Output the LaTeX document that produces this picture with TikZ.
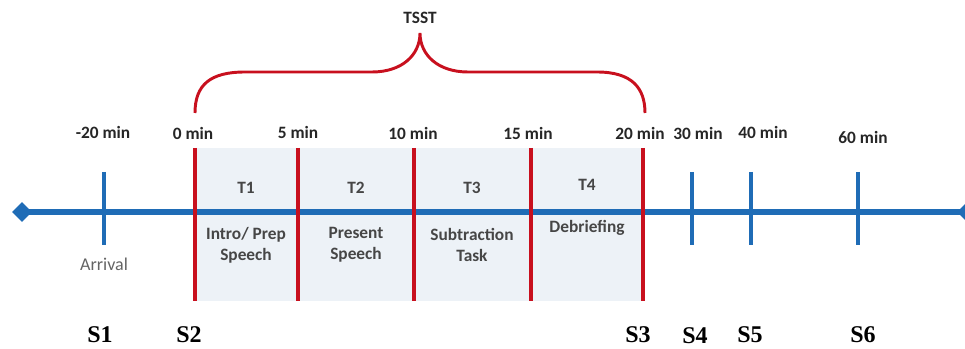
\documentclass[tikz,border=0pt]{standalone}
\usepackage{fontspec}
\setmainfont{Carlito}
\newfontfamily\timesf{Liberation Serif}
\usetikzlibrary{shapes.geometric}
\definecolor{tlblue}{RGB}{31,108,182}
\definecolor{tlred}{RGB}{200,16,30}
\definecolor{boxshade}{RGB}{237,242,247}
\definecolor{txtgrey}{RGB}{70,70,70}
\definecolor{arrgrey}{RGB}{100,100,100}
\begin{document}
\begin{tikzpicture}[x=0.75pt,y=-0.75pt,
  timelbl/.style={font=\fontsize{13}{15}\selectfont\bfseries, text=black!85, inner sep=0pt},
  boxlbl/.style={font=\fontsize{13}{15.5}\selectfont\bfseries, text=txtgrey, inner sep=0pt, align=center},
  slbl/.style={font=\timesf\fontsize{18}{20}\selectfont\bfseries, inner sep=0pt},
  redline/.style={draw=tlred, line width=3pt},
  blueline/.style={draw=tlblue, line width=3pt},
  endpt/.style={diamond, fill=tlblue, inner sep=0pt, minimum size=15pt}]
\useasboundingbox (0,0) rectangle (965,349);
% shaded region
\fill[boxshade] (195,148) rectangle (643,301);
% main axis
\node[endpt] (L) at (22,212) {};
\node[endpt] (R) at (967,212) {};
\draw[draw=tlblue, line width=4.5pt] (L.center) -- (R.center);
% blue ticks
\foreach \n/\x in {a/104,b/692,c/751,d/858}{
  \coordinate (t\n top) at (\x,172);
  \coordinate (t\n bot) at (\x,245);
  \draw[blueline] (t\n top) -- (t\n bot);
}
% red lines
\foreach \n/\x in {a/195,b/298,c/414,d/531,e/643}{
  \coordinate (r\n top) at (\x,148);
  \coordinate (r\n bot) at (\x,301);
  \draw[redline] (r\n top) -- (r\n bot);
}
% brace
\coordinate (bl) at (195,113);
\coordinate (bm) at (420,33);
\coordinate (br) at (645,113);
\draw[tlred, line width=2.2pt]
  (bl) .. controls (195,85) and (210,72) .. (245,72) -- (372,72)
  .. controls (402,72) and (420,55) .. (bm)
  .. controls (420,55) and (438,72) .. (468,72) -- (597,72)
  .. controls (632,72) and (645,88) .. (br);
\node[timelbl] (tsst) at (420,18) {TSST};
% time labels
\node[timelbl] (m20) at (103,132) {-20 min};
\node[timelbl] (m0) at (193,133) {0 min};
\node[timelbl] (m5) at (298,132) {5 min};
\node[timelbl] (m10) at (413,133) {10 min};
\node[timelbl] (m15) at (528,133) {15 min};
\node[timelbl] (m20b) at (640,133) {20 min};
\node[timelbl] (m30) at (698,133) {30 min};
\node[timelbl] (m40) at (763,132) {40 min};
\node[timelbl] (m60) at (863,137) {60 min};
% box labels
\node[boxlbl] (T1) at (246,188) {T1};
\node[boxlbl] (T2) at (356,188) {T2};
\node[boxlbl] (T3) at (472,188) {T3};
\node[boxlbl] (T4) at (587,185) {T4};
\node[boxlbl] (d1) at (246,245) {Intro/ Prep\\Speech};
\node[boxlbl] (d2) at (356,245) {Present\\Speech};
\node[boxlbl] (d3) at (472,245) {Subtraction\\Task};
\node[boxlbl] (d4) at (587,228) {Debriefing};
\node[boxlbl, text=arrgrey, font=\fontsize{13.5}{16}\selectfont] (arr) at (104,264) {Arrival};
% S labels
\node[slbl] (S1) at (100,335) {S1};
\node[slbl] (S2) at (189,335) {S2};
\node[slbl] (S3) at (638,335) {S3};
\node[slbl] (S4) at (695,336) {S4};
\node[slbl] (S5) at (750,335) {S5};
\node[slbl] (S6) at (863,335) {S6};
\end{tikzpicture}
\end{document}
